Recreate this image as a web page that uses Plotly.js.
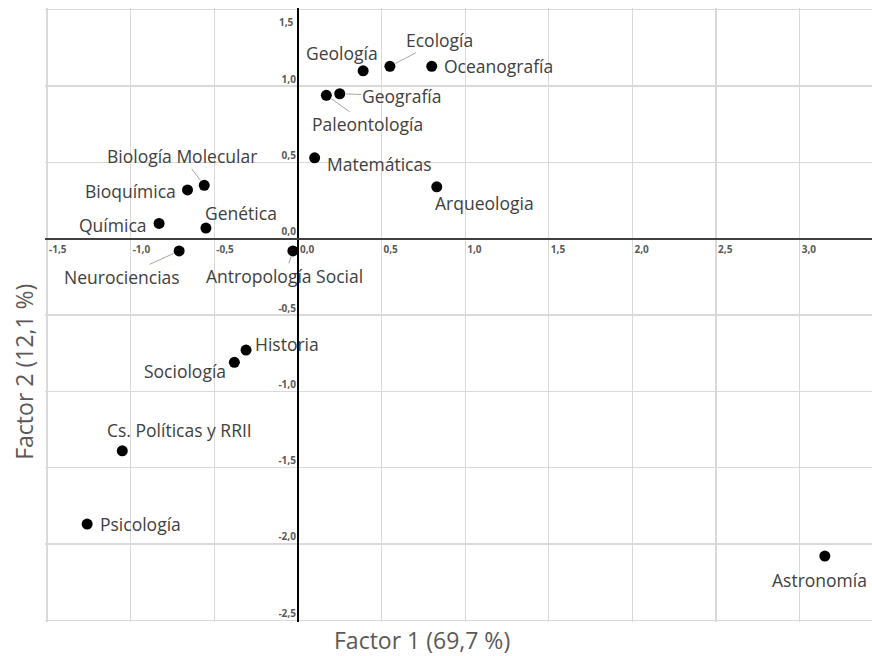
<!DOCTYPE html>
<html><head><meta charset="utf-8">
<script src="https://cdn.plot.ly/plotly-3.0.1.min.js"></script>
<style>html,body{margin:0;padding:0;background:#fff}</style>
</head><body><div id="chart" style="width:872px;height:656px"></div>
<script>
// ---- data ----
const disciplines = ["Geología","Ecología","Oceanografía","Paleontología","Geografía","Matemáticas","Arqueologia","Biología Molecular","Bioquímica","Química","Genética","Neurociencias","Antropología Social","Historia","Sociología","Cs. Políticas y RRII","Psicología","Astronomía"];
const factor1 = [0.39, 0.55, 0.80, 0.17, 0.25, 0.10, 0.83, -0.56, -0.66, -0.83, -0.55, -0.71, -0.03, -0.31, -0.38, -1.05, -1.26, 3.15];
const factor2 = [1.10, 1.13, 1.13, 0.94, 0.95, 0.53, 0.34, 0.35, 0.32, 0.10, 0.07, -0.08, -0.08, -0.73, -0.81, -1.39, -1.87, -2.08];
const xTicks = [-1.5, -1.0, -0.5, 0.0, 0.5, 1.0, 1.5, 2.0, 2.5, 3.0];
const xTickLabels = ["-1,5","-1,0","-0,5","0,0","0,5","1,0","1,5","2,0","2,5","3,0"];
const yTicks = [-2.5, -2.0, -1.5, -1.0, -0.5, 0.0, 0.5, 1.0, 1.5];
const yTickLabels = ["-2,5","-2,0","-1,5","-1,0","-0,5","0,0","0,5","1,0","1,5"];
const xTitle = "Factor 1 (69,7 %)";
const yTitle = "Factor 2 (12,1 %)";

// ---- label placement (pixel offsets of label centre from its point; leader = connector line) ----
const labelPlacement = [
  {dx:-21, dy:-18, leader:false},
  {dx:50, dy:-26, leader:true},
  {dx:67, dy:0, leader:false},
  {dx:41, dy:29, leader:true},
  {dx:62, dy:2, leader:true},
  {dx:65, dy:6, leader:false},
  {dx:48, dy:16, leader:false},
  {dx:-22, dy:-29, leader:true},
  {dx:-57, dy:1, leader:false},
  {dx:-46, dy:2, leader:false},
  {dx:35, dy:-15, leader:false},
  {dx:-57, dy:26, leader:true},
  {dx:-8, dy:25, leader:true},
  {dx:41, dy:-6, leader:false},
  {dx:-49, dy:9, leader:false},
  {dx:57, dy:-21, leader:false},
  {dx:53, dy:0, leader:false},
  {dx:-5, dy:24, leader:false}
];

const labelFont = {family:"Open Sans, sans-serif", size:17.5, color:"#404040"};
const tickFont = {family:"Open Sans, sans-serif", size:10, color:"#595959", weight:700};
const titleFont = {family:"Open Sans, sans-serif", size:23, color:"#595959"};
const xRange = [-1.512, 3.432];
const yRange = [-2.512, 1.512];

const trace = {
  type:"scatter", mode:"markers",
  x: factor1, y: factor2, text: disciplines,
  marker:{size:11, color:"#000"},
  hoverinfo:"text"
};

const annotations = disciplines.map((name, i) => {
  const p = labelPlacement[i];
  if (p.leader) {
    return {x:factor1[i], y:factor2[i], xref:"x", yref:"y", text:name,
      showarrow:true, arrowhead:0, arrowwidth:1, arrowcolor:"#a6a6a6",
      ax:p.dx, ay:p.dy, standoff:6, font:labelFont, borderpad:0};
  }
  return {x:factor1[i], y:factor2[i], xref:"x", yref:"y", text:name,
    showarrow:false, xanchor:"center", yanchor:"middle",
    xshift:p.dx, yshift:-p.dy, font:labelFont};
});
// top y tick label sits just below its gridline (clamped inside the plot)
const topTick = yTicks.length - 1;
annotations.push({x:0, y:yTicks[topTick], xref:"x", yref:"y", text:yTickLabels[topTick],
  showarrow:false, xanchor:"right", yanchor:"top", xshift:-2, yshift:-3, font:tickFont});
annotations.push({xref:"paper", yref:"paper", x:0.4554, y:-0.029, text:xTitle,
  showarrow:false, xanchor:"center", yanchor:"middle", font:titleFont});
annotations.push({xref:"paper", yref:"paper", x:-0.025, y:0.408, text:yTitle,
  showarrow:false, xanchor:"center", yanchor:"middle", textangle:-90, font:titleFont});

const layout = {
  width:872, height:656,
  margin:{l:45, r:0, t:8, b:34},
  paper_bgcolor:"#fff", plot_bgcolor:"#fff",
  showlegend:false,
  xaxis:{range:xRange, anchor:"free", position:(0 - yRange[0])/(yRange[1]-yRange[0]),
    tickmode:"array", tickvals:xTicks, ticktext:xTickLabels, ticks:"",
    ticklabelposition:"outside right", ticklabelshift:2, ticklabelstandoff:3,
    showgrid:true, gridcolor:"#d9d9d9", gridwidth:1.3,
    zeroline:true, zerolinecolor:"#000", zerolinewidth:1.6,
    showline:false, tickfont:tickFont, fixedrange:true},
  yaxis:{range:yRange, anchor:"free", position:(0 - xRange[0])/(xRange[1]-xRange[0]),
    tickmode:"array", tickvals:yTicks, ticktext:yTickLabels, ticks:"",
    ticklabelposition:"outside top", ticklabelstandoff:2,
    showgrid:true, gridcolor:"#d9d9d9", gridwidth:1.3,
    zeroline:true, zerolinecolor:"#404040", zerolinewidth:1.6,
    showline:false, tickfont:tickFont, fixedrange:true},
  annotations: annotations
};

Plotly.newPlot("chart", [trace], layout, {displayModeBar:false, staticPlot:true});
</script>
</body></html>
